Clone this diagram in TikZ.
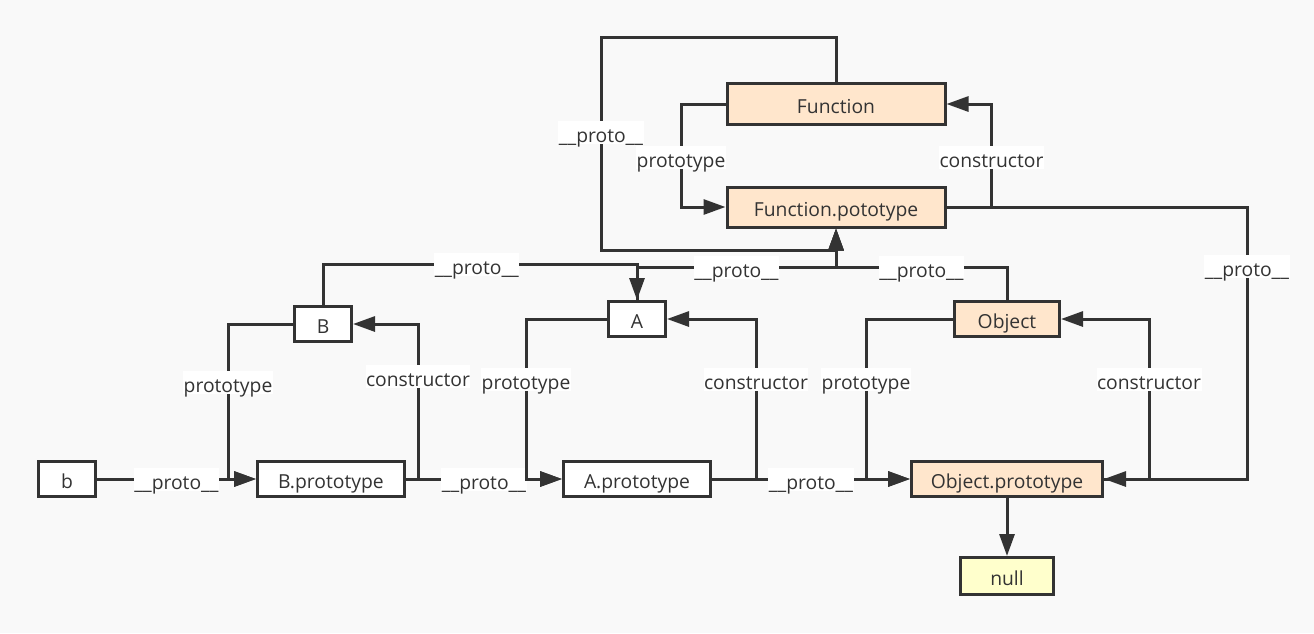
\documentclass[tikz,border=0pt]{standalone}
\usepackage{fontspec}
\setmainfont{Open Sans}
\usetikzlibrary{arrows.meta}
\definecolor{ink}{HTML}{333333}
\definecolor{peach}{HTML}{FFE6CC}
\definecolor{lemon}{HTML}{FFFFCC}
\definecolor{paper}{HTML}{F9F9F9}

\begin{document}
\begin{tikzpicture}[x=1pt,y=-1pt,node distance=97pt,
  every node/.style={font=\fontsize{19.3}{23}\selectfont,text=ink},
  box/.style={draw=ink,line width=3pt,fill=white,inner sep=0pt,text height=19pt,text depth=1pt,minimum width=57pt,minimum height=35pt},
  core/.style={box,fill=peach},
  lbl/.style={fill=white,inner xsep=0.5pt,inner ysep=1pt,text height=20.5pt,text depth=0.5pt},
  link/.style={draw=ink,line width=3pt,-{Triangle[length=22pt,width=15pt]}}]
\fill[paper] (0,0) rectangle (1314,633);

\node[box]                           (b_i)   at (67,479)   {b};
\node[box,minimum width=147pt]       (b_p)   at (331,479)  {B.prototype};
\node[box,minimum width=147pt]       (a_p)   at (637,479)  {A.prototype};
\node[core,minimum width=191pt]      (obj_p) at (1007,479) {Object.prototype};
\node[box,fill=lemon,minimum width=93pt,minimum height=37pt] (nul) [below of=obj_p] {null};
\node[box]                           (b_c)   at (323,324)  {B};
\node[box]                           (a_c)   at (637,319)  {A};
\node[core,minimum width=105pt]      (obj)   at (1007,319) {Object};
\node[core,minimum width=218pt,minimum height=41pt] (fn)   at (836,104) {Function};
\node[core,minimum width=218pt,minimum height=40pt] (fn_p) at (836,207) {Function.pototype};

% __proto__ along the bottom row
\draw[link] (b_i) -- node[lbl] {\_\_proto\_\_} (b_p);
\draw[link] (b_p) -- node[lbl] {\_\_proto\_\_} (a_p);
\draw[link] (a_p) -- node[lbl] {\_\_proto\_\_} (obj_p);
\draw[link] (obj_p) -- (nul);

% prototype / constructor pairs
\draw[link] (b_c.west) -| node[lbl,pos=0.69] {prototype} (228,479) -- (b_p.west);
\draw[link] (b_p.east) -- ++(12,0) |- node[lbl,pos=0.33] {constructor} (b_c.east);
\draw[link] (a_c.west) -| node[lbl,pos=0.69] {prototype} (526,479) -- (a_p.west);
\draw[link] (a_p.east) -- ++(44,0) |- node[lbl,pos=0.31] {constructor} (a_c.east);
\draw[link] (obj.west) -| node[lbl,pos=0.69] {prototype} (866,479) -- (obj_p.west);
\draw[link] (obj_p.east) -- ++(45,0) |- node[lbl,pos=0.31] {constructor} (obj.east);
\draw[link] (fn.west) -| node[lbl,pos=0.76] {prototype} (681,207) -- (fn_p.west);
\draw[link] (fn_p.east) -- ++(45,0) |- node[lbl,pos=0.24] {constructor} (fn.east);

% __proto__ up to Function.prototype and beyond
\draw[link] (b_c.north) -- (323,264) -- node[lbl,pos=0.49] {\_\_proto\_\_} (637,264) -- (a_c.north);
\draw[link] (a_c.north) -- (637,267) -- node[lbl] {\_\_proto\_\_} (836,267) -- (fn_p.south);
\draw[link] (obj.north) -- (1007,267) -- node[lbl] {\_\_proto\_\_} (836,267) -- (fn_p.south);
\draw[link] (fn.north) -- (836,37) -- (601,37) -- node[lbl,pos=0.45] {\_\_proto\_\_} (601,250) -- (836,250) -- (fn_p.south);
\draw[link] (fn_p.east) -- (1247,207) -- node[lbl,pos=0.22] {\_\_proto\_\_} (1247,479) -- (obj_p.east);
\end{tikzpicture}
\end{document}
